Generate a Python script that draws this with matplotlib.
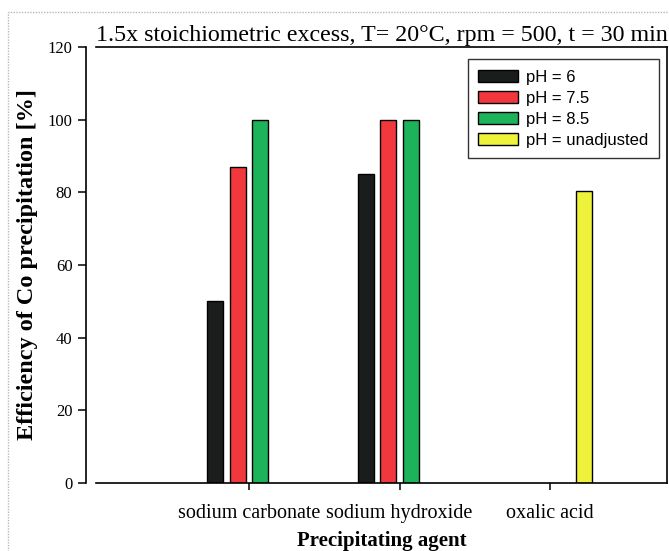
import numpy as np
import matplotlib
matplotlib.use("Agg")
import matplotlib.pyplot as plt
from matplotlib.patches import Rectangle

# data
agents = ["sodium carbonate", "sodium hydroxide", "oxalic acid"]
ph_labels = ["pH = 6", "pH = 7.5", "pH = 8.5", "pH = unadjusted"]
ph6 = [50, 85, np.nan]
ph75 = [87, 100, np.nan]
ph85 = [100, 100, np.nan]
ph_unadj = [np.nan, np.nan, 80.5]
colors = ["#1b1d1c", "#f2383c", "#1db35a", "#eef23a"]

serif = ["Liberation Serif", "DejaVu Serif"]
sans = ["Liberation Sans", "DejaVu Sans"]

fig = plt.figure(figsize=(6.69, 5.51), dpi=100)
ax = fig.add_axes([0.1435, 0.1234, 0.8535, 0.7913])

x = np.arange(len(agents))
slot = 0.15
width = 0.105
series = [ph6, ph75, ph85, ph_unadj]
for i, (vals, lab, col) in enumerate(zip(series, ph_labels, colors)):
    ax.bar(x + (i - 1.5) * slot, vals, width, color=col, edgecolor="black",
           linewidth=1.0, label=lab)

ax.set_xlim(-1.017, 2.777)
ax.set_ylim(0, 120)
ax.set_yticks(range(0, 121, 20))
ax.set_xticks(x)
ax.set_xticklabels(agents)

ax.spines["left"].set_position(("outward", 7))
for s in ax.spines.values():
    s.set_linewidth(1.2)
ax.tick_params(axis="y", direction="out", length=6, width=1.1, pad=4,
               labelsize=12, labelfontfamily="Liberation Serif")
ax.tick_params(axis="x", direction="out", length=5, width=1.1, pad=10,
               labelsize=14.5, labelfontfamily="Liberation Serif")

ax.set_ylabel("Efficiency of Co precipitation [%]", family=serif,
              fontsize=17.5, fontweight="bold", labelpad=7)
ax.set_xlabel("Precipitating agent", family=serif, fontsize=15,
              fontweight="bold", labelpad=6)
ax.set_title("1.5x stoichiometric excess, T= 20\u00b0C, rpm = 500, t = 30 min",
             family=serif, fontsize=17.3, pad=4)

leg = ax.legend(loc="upper right", bbox_to_anchor=(0.986, 0.972),
                borderaxespad=0, prop={"family": sans, "size": 12},
                frameon=True, fancybox=False, edgecolor="black",
                handlelength=2.4, handleheight=0.7, labelspacing=0.37,
                borderpad=0.62, handletextpad=0.5)
leg.get_frame().set_linewidth(1.0)

# light frame around the page
fig.patches.append(Rectangle((0.012, -0.05), 1.1, 1.028, transform=fig.transFigure,
                             fill=False, edgecolor="#b8b8b8", linewidth=1.0,
                             linestyle=(0, (1, 1))))

fig.savefig("out.png", dpi=100)
